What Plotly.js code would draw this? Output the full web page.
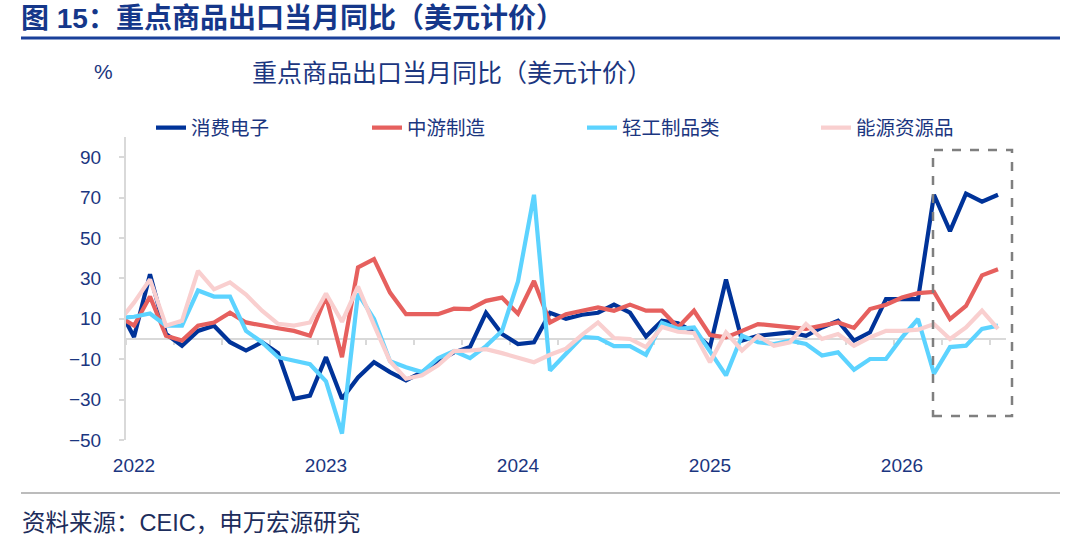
<!DOCTYPE html>
<html>
<head>
<meta charset="utf-8">
<script src="https://cdn.plot.ly/plotly-3.0.1.min.js"></script>
<style>html,body{margin:0;padding:0;background:#fff;}#chart{width:1080px;height:555px;}</style>
</head>
<body>
<div id="chart"></div>
<script>
// ---- data ----
const months = ['2021-12',
 '2022-01','2022-02','2022-03','2022-04','2022-05','2022-06','2022-07','2022-08','2022-09','2022-10','2022-11','2022-12',
 '2023-01','2023-02','2023-03','2023-04','2023-05','2023-06','2023-07','2023-08','2023-09','2023-10','2023-11','2023-12',
 '2024-01','2024-02','2024-03','2024-04','2024-05','2024-06','2024-07','2024-08','2024-09','2024-10','2024-11','2024-12',
 '2025-01','2025-02','2025-03','2025-04','2025-05','2025-06','2025-07','2025-08','2025-09','2025-10','2025-11','2025-12',
 '2026-01','2026-02','2026-03','2026-04','2026-05','2026-06','2026-07'];
const seriesNames = ['消费电子','中游制造','轻工制品类','能源资源品'];
const consumerElec = [16,
 1, 32, 2.5, -3.3, 4, 6.6, -1.6, -5.7, -1.6, -7, -29.6, -28,
 -9, -29.6, -19, -11.5, -16.4, -20.5, -16.4, -11, -6.6, -4, 13, 2.5,
 -2.5, -1.6, 13, 10, 12, 13, 17, 13, 1.2, 9, 7.8, 3.3,
 -4, 29.5, -0.8, 1.6, 2.5, 3.3, 1.6, 5.7, 9, -0.8, 3.3, 19.7,
 19.7, 19.7, 71.4, 53.4, 72, 68, 71.4];
const midstreamMfg = [11.4,
 6.6, 21, 1.6, -0.8, 6.6, 8.2, 13, 8.2, 6.6, 5.3, 4, 1.6,
 21, -9, 35.5, 39.6, 23, 12.3, 12.3, 12.3, 15, 14.8, 18.9, 20.5,
 12.5, 28.7, 8.2, 12.3, 14, 15.6, 14, 17, 14, 14, 5.7, 14,
 2, 0.8, 4, 7.4, 6.6, 5.7, 5, 6.6, 8.2, 5.5, 14.8, 17,
 20.5, 22.7, 23.3, 9.9, 16.4, 31.5, 34.5];
const lightMfg = [10.4,
 11, 12.6, 6.6, 6.6, 24, 21, 21, 4, -1.6, -9, -11, -12.5,
 -21, -46.8, 22.5, 9.9, -11, -14, -16.4, -9.5, -6, -9.5, -3.5, 4,
 28.5, 71.4, -15.6, -7, 1, 0.5, -3.5, -3.5, -7.8, 8, 5, 5.7,
 -6, -18, 1.6, -1.6, -2.5, -0.8, -2.5, -8.2, -6.6, -15.2, -9.9, -9.9,
 0.8, 9.9, -17.2, -4, -3.3, 5, 6.6];
const energyRes = [8,
 18, 29.5, 6.6, 9, 33.7, 24.6, 28, 22, 14, 7.5, 6.6, 8.2,
 22.5, 8.5, 26, 7, -11, -19.7, -18, -13, -6, -5.7, -5, -7,
 -9, -11.5, -7.8, -4.8, 2, 8.2, 0.5, 0, -4, 6, 3.6, 3,
 -11.5, 3.3, -5.7, 1.6, -3.3, -1.6, 7.4, 0, 2.5, -3.3, 0.8, 4,
 4, 4.6, 7.4, 0, 5.7, 14, 5];
const seriesColors = ['#003399','#E6605E','#5CD3FF','#F9CFCF'];
const yearLabels = ['2022','2023','2024','2025','2026'];
const yTickVals = [90, 70, 50, 30, 10, -10, -30, -50];
const yRange = [-50, 100];

// month index (2022-01 = 0)
const baseYear = 2022;
const xIdx = months.map(m => (parseInt(m.slice(0,4)) - baseYear) * 12 + parseInt(m.slice(5,7)) - 1);
const xRange = [-0.5, xIdx[xIdx.length - 1] + 0.5];
const boundaryTicks = [];
for (let k = xRange[0]; k <= xRange[1] + 1e-9; k += 3) boundaryTicks.push(k);
const yearIdx = yearLabels.map(y => (parseInt(y) - baseYear) * 12);
const zeroPos = (0 - yRange[0]) / (yRange[1] - yRange[0]);

const FONT = "'Liberation Sans', 'Noto Sans CJK SC', Arial, sans-serif";
const NAVY = '#1b3680';

const allSeries = [consumerElec, midstreamMfg, lightMfg, energyRes];
const legendIds = ['legend','legend2','legend3','legend4'];
const traces = allSeries.map((vals, i) => ({
  type: 'scatter', mode: 'lines',
  x: xIdx, y: vals, name: seriesNames[i],
  line: {color: seriesColors[i], width: 4.2, shape: 'linear'},
  xaxis: i === 3 ? 'x2' : 'x', yaxis: 'y',
  legend: legendIds[i],
  hoverinfo: 'skip'
}));

// legend text start positions (px) -> paper
const plotL = 126, plotR = 1006, plotT = 137, plotB = 440;
const pw = plotR - plotL, ph = plotB - plotT;
const px2x = p => (p - plotL) / pw;
const py2y = p => (plotB - p) / ph;
const legendTextStart = [193, 409, 624, 858];
const legendBase = {orientation: 'h', xanchor: 'left', yanchor: 'middle', y: py2y(128),
  font: {family: FONT, size: 19.5, color: NAVY}, bgcolor: 'rgba(0,0,0,0)', borderwidth: 0};
const layout = {
  width: 1080, height: 555,
  margin: {l: plotL, r: 1080 - plotR, t: plotT, b: 555 - plotB, pad: 0},
  paper_bgcolor: '#fff', plot_bgcolor: '#fff',
  font: {family: FONT, color: NAVY},
  title: {text: '<b>图 15：重点商品出口当月同比（美元计价）</b>', xref: 'container', yref: 'container',
    x: 21/1080, xanchor: 'left', y: 1 - 18/555, yanchor: 'middle',
    font: {family: FONT, size: 28, color: '#15378a'}},
  xaxis: {range: xRange, anchor: 'free', position: zeroPos, showline: true, linecolor: '#d9d9d9', linewidth: 2,
    tickmode: 'array', tickvals: boundaryTicks, ticks: 'outside', ticklen: 5, tickwidth: 2, tickcolor: '#d9d9d9',
    showticklabels: false, showgrid: false, zeroline: false, layer: 'below traces', fixedrange: true},
  xaxis2: {range: xRange, overlaying: 'x', anchor: 'y', side: 'bottom', tickmode: 'array', tickvals: yearIdx, ticktext: yearLabels,
    ticks: '', showline: false, showgrid: false, zeroline: false, ticklabelstandoff: 12,
    tickfont: {family: FONT, size: 19, color: NAVY}, fixedrange: true},
  yaxis: {range: yRange, tickmode: 'array', tickvals: yTickVals, showline: true, linecolor: '#d9d9d9', linewidth: 2,
    ticks: 'outside', ticklen: 5, tickwidth: 2, tickcolor: '#d9d9d9', showgrid: false, zeroline: false,
    ticklabelstandoff: 14, tickfont: {family: FONT, size: 19, color: NAVY}, fixedrange: true},
  showlegend: true,
  legend: Object.assign({}, legendBase, {x: px2x(legendTextStart[0] - 42)}),
  legend2: Object.assign({}, legendBase, {x: px2x(legendTextStart[1] - 42)}),
  legend3: Object.assign({}, legendBase, {x: px2x(legendTextStart[2] - 42)}),
  legend4: Object.assign({}, legendBase, {x: px2x(legendTextStart[3] - 42)}),
  annotations: [
    {text: '%', xref: 'paper', yref: 'paper', x: px2x(103), y: py2y(72), xanchor: 'center', yanchor: 'middle',
     showarrow: false, font: {family: FONT, size: 21, color: NAVY}},
    {text: '重点商品出口当月同比（美元计价）', xref: 'paper', yref: 'paper', x: px2x(452), y: py2y(73),
     xanchor: 'center', yanchor: 'middle', showarrow: false, font: {family: FONT, size: 25, color: NAVY}},
    {text: '资料来源：CEIC，申万宏源研究', xref: 'paper', yref: 'paper', x: px2x(20), y: py2y(523),
     xanchor: 'left', yanchor: 'middle', showarrow: false, font: {family: FONT, size: 23.5, color: '#1d2d5c'}}
  ],
  shapes: [
    {type: 'line', xref: 'paper', yref: 'paper', x0: px2x(21), x1: px2x(1060), y0: py2y(38), y1: py2y(38),
     line: {color: '#1a409a', width: 3}},
    {type: 'line', xref: 'paper', yref: 'paper', x0: px2x(21), x1: px2x(1060), y0: py2y(493), y1: py2y(493),
     line: {color: '#a6a6a6', width: 1.5}},
    {type: 'rect', xref: 'paper', yref: 'paper', x0: px2x(933), x1: px2x(1012), y0: py2y(416), y1: py2y(150),
     line: {color: '#7f7f7f', width: 2.5, dash: 'dash'}, fillcolor: 'rgba(0,0,0,0)', layer: 'above'}
  ]
};
Plotly.newPlot('chart', traces, layout, {displayModeBar: false, staticPlot: true});
</script>
</body>
</html>
